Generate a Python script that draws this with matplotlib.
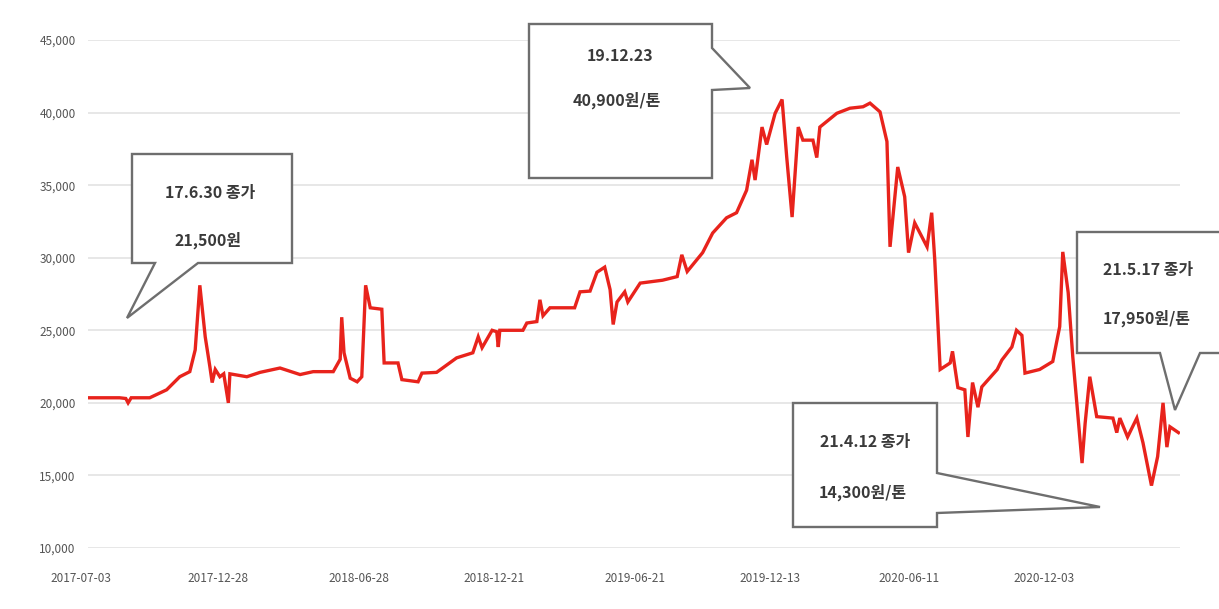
import matplotlib
matplotlib.use("Agg")
import matplotlib.pyplot as plt
import matplotlib.transforms as mtransforms
from matplotlib.patches import Polygon
import pandas as pd

plt.rcParams['font.family'] = ['Noto Sans CJK KR', 'DejaVu Sans']

# price series (won per ton)
dates = [
    "2017-07-03", "2017-08-13", "2017-08-21", "2017-08-24", "2017-08-28", "2017-09-21",
    "2017-10-13", "2017-10-30", "2017-11-12", "2017-11-19", "2017-11-25", "2017-12-02",
    "2017-12-08", "2017-12-11", "2017-12-15", "2017-12-21", "2017-12-26", "2018-01-01",
    "2018-01-03", "2018-01-25", "2018-02-11", "2018-03-09", "2018-04-04", "2018-04-21",
    "2018-05-17", "2018-05-26", "2018-05-28", "2018-05-31", "2018-06-08", "2018-06-17",
    "2018-06-23", "2018-06-28", "2018-07-04", "2018-07-19", "2018-07-22", "2018-08-09",
    "2018-08-14", "2018-09-04", "2018-09-09", "2018-09-28", "2018-10-24", "2018-11-14",
    "2018-11-21", "2018-11-26", "2018-12-09", "2018-12-15", "2018-12-17", "2018-12-19",
    "2019-01-18", "2019-01-23", "2019-02-05", "2019-02-09", "2019-02-13", "2019-02-22",
    "2019-03-26", "2019-04-02", "2019-04-15", "2019-04-24", "2019-05-04", "2019-05-11",
    "2019-05-15", "2019-05-20", "2019-05-30", "2019-06-03", "2019-06-19", "2019-07-18",
    "2019-08-06", "2019-08-12", "2019-08-19", "2019-09-08", "2019-09-21", "2019-10-09",
    "2019-10-22", "2019-11-04", "2019-11-11", "2019-11-15", "2019-11-24", "2019-11-30",
    "2019-12-11", "2019-12-20", "2019-12-26", "2020-01-02", "2020-01-10", "2020-01-16",
    "2020-01-29", "2020-02-03", "2020-02-07", "2020-02-29", "2020-03-17", "2020-04-03",
    "2020-04-12", "2020-04-25", "2020-05-04", "2020-05-08", "2020-05-18", "2020-05-27",
    "2020-06-01", "2020-06-09", "2020-06-25", "2020-07-01", "2020-07-05", "2020-07-12",
    "2020-07-25", "2020-07-28", "2020-08-04", "2020-08-13", "2020-08-17", "2020-08-23",
    "2020-08-30", "2020-09-04", "2020-09-24", "2020-09-30", "2020-10-13", "2020-10-19",
    "2020-10-26", "2020-10-30", "2020-11-18", "2020-12-05", "2020-12-14", "2020-12-18",
    "2020-12-25", "2020-12-31", "2021-01-12", "2021-01-16", "2021-01-22", "2021-01-31",
    "2021-02-21", "2021-02-26", "2021-03-02", "2021-03-12", "2021-03-24", "2021-04-01",
    "2021-04-12", "2021-04-20", "2021-04-27", "2021-05-02", "2021-05-06", "2021-05-17",
]
prices = [
    20350, 20350, 20300, 20000, 20350, 20350,
    20900, 21800, 22150, 23650, 28100, 24550,
    22500, 21400, 22300, 21800, 22000, 20000,
    22000, 21800, 22100, 22400, 21950, 22150,
    22150, 23000, 25900, 23450, 21700, 21450,
    21800, 28100, 26550, 26450, 22750, 22750,
    21600, 21450, 22050, 22100, 23100, 23450,
    24550, 23800, 25000, 24900, 23850, 25000,
    25000, 25500, 25600, 27100, 26000, 26550,
    26550, 27650, 27700, 29000, 29350, 27800,
    25400, 26950, 27650, 26950, 28250, 28450,
    28700, 30200, 29050, 30350, 31700, 32750,
    33100, 34650, 36750, 35350, 39000, 37800,
    39950, 40900, 36950, 32800, 39000, 38100,
    38100, 36900, 39000, 39950, 40300, 40400,
    40650, 40050, 38000, 30750, 36250, 34200,
    30350, 32400, 30750, 33100, 29850, 22300,
    22750, 23550, 21050, 20900, 17650, 21400,
    19700, 21100, 22300, 22950, 23850, 25000,
    24650, 22050, 22300, 22850, 25250, 30400,
    27600, 23150, 15850, 18600, 21800, 19050,
    18950, 17950, 18950, 17650, 18950, 17250,
    14300, 16300, 20000, 16950, 18350, 17950,
]

tick_dates = ["2017-07-03", "2017-12-28", "2018-06-28", "2018-12-21",
              "2019-06-21", "2019-12-13", "2020-06-11", "2020-12-03"]
y_ticks = [10000, 15000, 20000, 25000, 30000, 35000, 40000, 45000]

callouts = [
    ("17.6.30 종가", "21,500원"),
    ("19.12.23", "40,900원/톤"),
    ("21.4.12 종가", "14,300원/톤"),
    ("21.5.17 종가", "17,950원/톤"),
]

W, H = 1219, 609
fig = plt.figure(figsize=(W / 100, H / 100), dpi=100)
ax = fig.add_axes([88 / W, 1 - 548 / H, (1180 - 88) / W, (548 - 40) / H])

x = pd.to_datetime(dates)
ax.plot(x, prices, color='#e8231c', lw=2.4, solid_joinstyle='miter')

ax.set_ylim(10000, 45000)
ax.set_xlim(pd.Timestamp("2017-07-03"), pd.Timestamp("2021-05-19"))
ax.set_yticks(y_ticks)
ax.set_yticklabels([f"{v:,}" for v in y_ticks])
ax.set_xticks(pd.to_datetime(tick_dates))
ax.set_xticklabels(tick_dates)
ax.grid(axis='y', color='#e3e3e3', lw=1.2)
ax.set_axisbelow(True)
for s in ax.spines.values():
    s.set_visible(False)
ax.tick_params(length=0, labelsize=8.5, labelcolor='#555555')
ax.tick_params(axis='y', pad=9)
ax.tick_params(axis='x', pad=17)
# x labels sit a few pixels left of the data positions in the original
shift = mtransforms.ScaledTranslation(-7 / 100, 0, fig.dpi_scale_trans)
for lab in ax.get_xticklabels():
    lab.set_transform(lab.get_transform() + shift)


def px(pts):
    return [(a / W, 1 - b / H) for a, b in pts]


def callout(pts, lines, centers, fs=11.5):
    fig.patches.append(Polygon(px(pts), closed=True, transform=fig.transFigure,
                               facecolor='white', edgecolor='#6e6e6e', lw=1.7,
                               zorder=5))
    for t, (cx, cy) in zip(lines, centers):
        fig.text(cx / W, 1 - cy / H, t, ha='center', va='center', fontsize=fs,
                 color='#3a3a3a', fontweight='bold', zorder=6)


# 17.6.30 box, tail pointing down-left
callout([(132, 154), (292, 154), (292, 263), (198, 263), (127, 318), (155, 263), (132, 263)],
        callouts[0], [(210, 193), (208, 240)])
# 19.12.23 box, tail pointing right
callout([(529, 24), (712, 24), (712, 48), (750, 88), (712, 90), (712, 178), (529, 178)],
        callouts[1], [(620, 56), (617, 100)])
# 21.4.12 box, tail pointing right
callout([(793, 403), (937, 403), (937, 473), (1100, 507), (937, 513), (937, 527), (793, 527)],
        callouts[2], [(865, 442), (863, 492)])
# 21.5.17 box (runs past right edge), tail pointing down
callout([(1077, 232), (1230, 232), (1230, 353), (1200, 353), (1175, 410), (1160, 353), (1077, 353)],
        callouts[3], [(1148, 270), (1147, 318)])

fig.savefig("out.png", dpi=100)
